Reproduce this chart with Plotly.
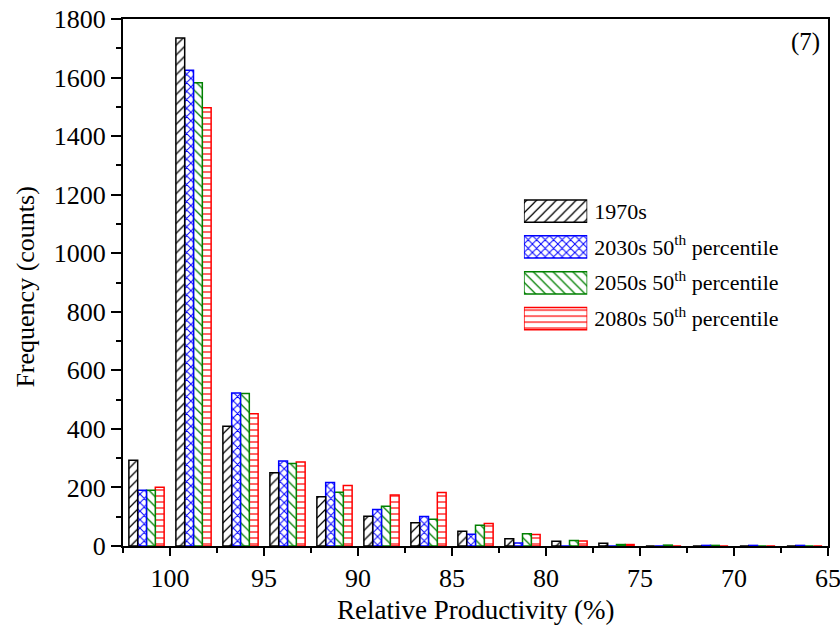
import plotly.graph_objects as go

# Bin centres (Relative Productivity, %)
bins = [101.25, 98.75, 96.25, 93.75, 91.25, 88.75, 86.25, 83.75, 81.25,
        78.75, 76.25, 73.75, 71.25, 68.75, 66.25]

freq_1970s = [293, 1735, 409, 250, 168, 102, 79, 50, 25, 16, 9, 0, 0, 0, 0]
freq_2030s = [190, 1625, 523, 290, 217, 125, 101, 40, 10, 0, 0, 0, 2, 2, 2]
freq_2050s = [190, 1582, 521, 282, 184, 136, 91, 71, 42, 19, 5, 3, 2, 0, 0]
freq_2080s = [201, 1497, 452, 287, 207, 174, 183, 77, 39, 17, 5, 0, 0, 0, 0]

series_names = ["1970s",
                "2030s 50<sup>th</sup> percentile",
                "2050s 50<sup>th</sup> percentile",
                "2080s 50<sup>th</sup> percentile"]
series_values = [freq_1970s, freq_2030s, freq_2050s, freq_2080s]
series_colors = ["#000000", "#0000FF", "#008000", "#FF0000"]
series_patterns = ["/", "x", "\\", "-"]
pattern_sizes = [7, 6, 7, 6]
pattern_solidity = [0.18, 0.3, 0.18, 0.2]

x_tickvals = [100, 95, 90, 85, 80, 75, 70, 65]
y_tickvals = [0, 200, 400, 600, 800, 1000, 1200, 1400, 1600, 1800]

FONT = "Liberation Serif, Times New Roman, serif"

fig = go.Figure()
# reversed x-axis: add traces in reverse so 1970s sits on the left of each group
for name, vals, col, pat, sz, so in list(zip(series_names, series_values, series_colors,
                                             series_patterns, pattern_sizes,
                                             pattern_solidity))[::-1]:
    fig.add_trace(go.Bar(
        x=bins, y=vals, name=name, showlegend=False,
        marker=dict(color="white",
                    line=dict(color=col, width=1.5),
                    pattern=dict(shape=pat, fgcolor=col, bgcolor="white",
                                 size=sz, solidity=so, fillmode="replace")),
    ))

# Legend with large patterned swatches (drawn on a small auxiliary axis pair)
fig.add_trace(go.Bar(
    x=[1] * len(series_names), y=series_names, orientation="h",
    xaxis="x2", yaxis="y2", showlegend=False, hoverinfo="skip", width=0.62,
    marker=dict(color="white",
                line=dict(color=series_colors, width=1.5),
                pattern=dict(shape=series_patterns, fgcolor=series_colors,
                             bgcolor="white", size=pattern_sizes,
                             solidity=pattern_solidity, fillmode="replace")),
))

fig.update_layout(
    width=840, height=630,
    barmode="group", bargap=0.25, bargroupgap=0.0,
    paper_bgcolor="white", plot_bgcolor="white",
    margin=dict(l=123, r=12, t=19, b=84, autoexpand=False),
    font=dict(family=FONT, size=26, color="black"),
    showlegend=False,
    xaxis=dict(
        range=[102.5, 65], tickvals=x_tickvals, ticktext=[str(v) for v in x_tickvals],
        ticks="outside", ticklen=8, tickwidth=2, tickcolor="black",
        minor=dict(ticks="outside", ticklen=5, tickwidth=2, dtick=2.5, tick0=0,
                   tickcolor="black"),
        showline=True, linewidth=2, linecolor="black", mirror=True,
        showgrid=False, zeroline=False, automargin=False,
        ticklabeloverflow="allow",
        tickfont=dict(family=FONT, size=26),
    ),
    yaxis=dict(
        range=[0, 1800], tickvals=y_tickvals,
        ticks="outside", ticklen=10, tickwidth=2, tickcolor="black",
        minor=dict(ticks="outside", ticklen=5, tickwidth=2, dtick=100, tick0=0,
                   tickcolor="black"),
        showline=True, linewidth=2, linecolor="black", mirror=True,
        showgrid=False, zeroline=False, automargin=False,
        ticklabeloverflow="allow",
        tickfont=dict(family=FONT, size=26),
    ),
    xaxis2=dict(domain=[0.5687, 0.6585], anchor="y2", range=[0, 1],
                visible=False, fixedrange=True, automargin=False),
    yaxis2=dict(domain=[0.3974, 0.6696], anchor="x2", side="right",
                type="category", autorange="reversed", automargin=False,
                showline=False, showgrid=False, zeroline=False, ticks="",
                ticklabelstandoff=6, ticklabeloverflow="allow",
                tickfont=dict(family=FONT, size=22, color="black")),
)

# Axis titles
fig.add_annotation(text="Relative Productivity (%)", xref="paper", yref="paper",
                   x=0.5, y=-0.121, xanchor="center", yanchor="middle",
                   showarrow=False, font=dict(family=FONT, size=27))
fig.add_annotation(text="Frequency (counts)", xref="paper", yref="paper",
                   x=-0.1385, y=0.491, xanchor="center", yanchor="middle",
                   textangle=-90, showarrow=False, font=dict(family=FONT, size=26))

fig.add_annotation(text="(7)", xref="paper", yref="paper", x=0.992, y=0.956,
                   xanchor="right", yanchor="middle", showarrow=False,
                   font=dict(family=FONT, size=25))

fig.write_html("out.html")
